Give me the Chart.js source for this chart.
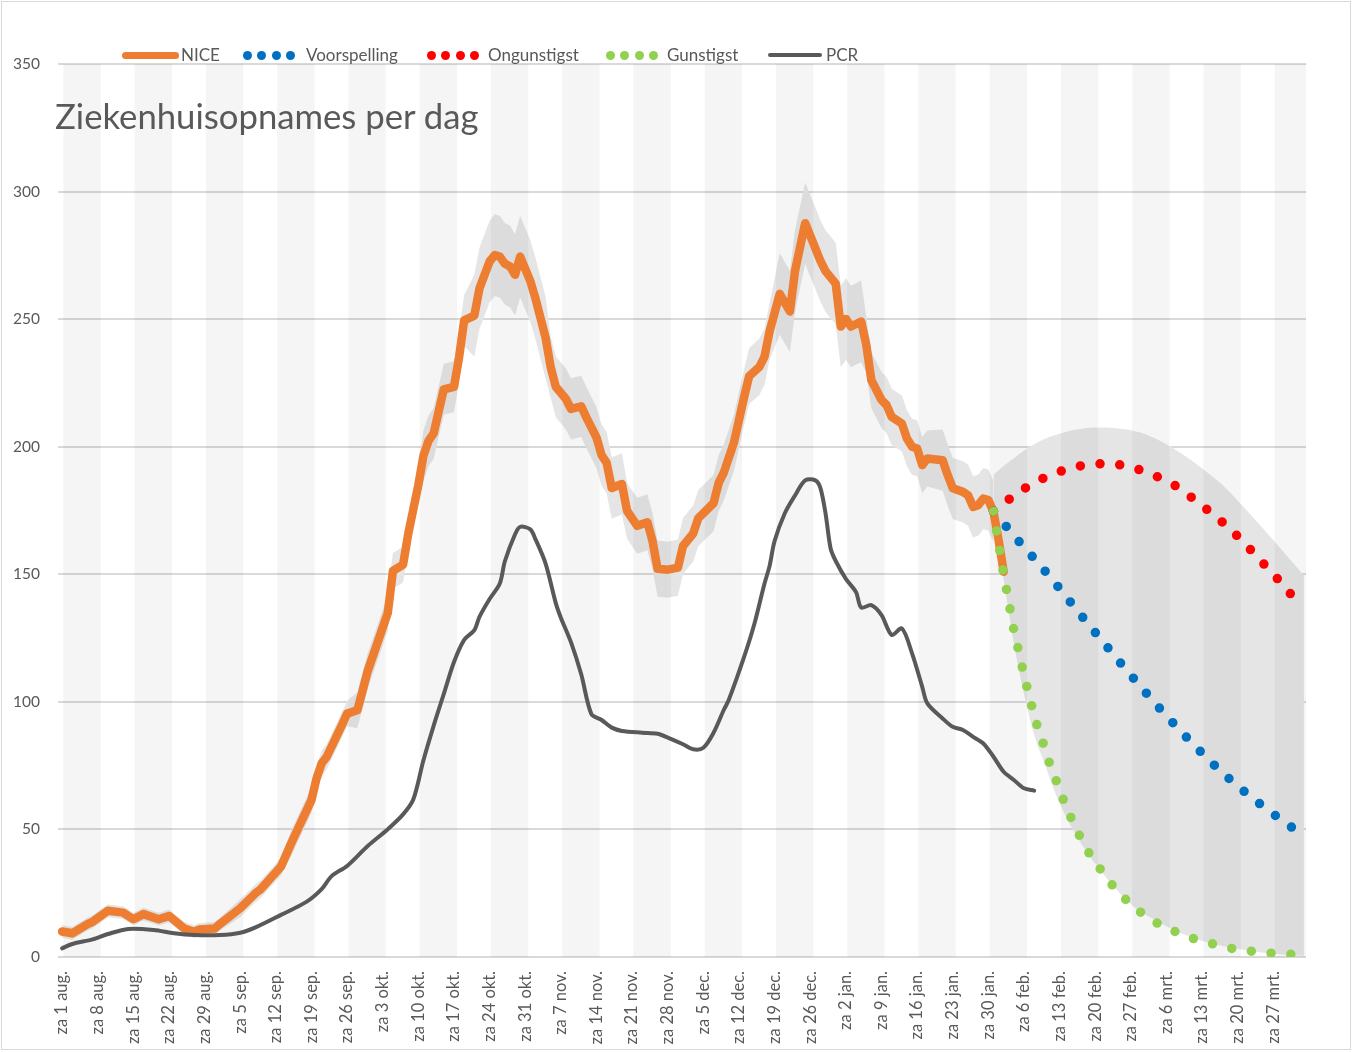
<!DOCTYPE html>
<html>
<head>
<meta charset="utf-8">
<script src="https://cdn.jsdelivr.net/npm/chart.js@4.4.1/dist/chart.umd.min.js"></script>
<style>
html,body{margin:0;padding:0;background:#fff;}
#wrap{position:relative;width:1352px;height:1052px;overflow:hidden;background:#fff;}
#frame{position:absolute;left:1px;top:1px;width:1348px;height:1047px;border:1px solid #d9d9d9;pointer-events:none;}
#c{position:absolute;left:0;top:0;}
#title{position:absolute;left:55px;top:99px;font-family:Lato,sans-serif;font-size:34.7px;line-height:34.7px;color:#595959;white-space:nowrap;}
.lt{position:absolute;top:46px;font-family:Lato,sans-serif;font-size:17px;line-height:17px;color:#595959;white-space:nowrap;}
.lm{position:absolute;}
</style>
</head>
<body>
<div id="wrap">
  <canvas id="c" width="1352" height="1052"></canvas>
  <div id="title">Ziekenhuisopnames per dag</div>
  <div id="legend"></div>
  <div id="frame"></div>
</div>
<script>
// ---------- DATA (day index 0 = za 1 aug.) ----------
const tickLabels = ["za 1 aug.","za 8 aug.","za 15 aug.","za 22 aug.","za 29 aug.","za 5 sep.","za 12 sep.","za 19 sep.","za 26 sep.","za 3 okt.","za 10 okt.","za 17 okt.","za 24 okt.","za 31 okt.","za 7 nov.","za 14 nov.","za 21 nov.","za 28 nov.","za 5 dec.","za 12 dec.","za 19 dec.","za 26 dec.","za 2 jan.","za 9 jan.","za 16 jan.","za 23 jan.","za 30 jan.","za 6 feb.","za 13 feb.","za 20 feb.","za 27 feb.","za 6 mrt.","za 13 mrt.","za 20 mrt.","za 27 mrt."];

const niceDays = [
  0,2,5,6,9,12,14,16,19,21,
  22,24,26,27,30,31,35,38,39,43,
  45,47,49,50,51,52,55,56,58,59,
  60,62,64,65,67,68,70,71,72,73,
  74,75,77,78,79,81,82,84,85,86,
  87,88,89,90,92,93,95,96,97,99,
  100,102,103,105,106,107,108,110,111,113,
  115,116,117,119,121,122,124,125,128,129,
  130,132,134,135,137,138,139,141,143,144,
  146,147,149,150,152,153,154,155,157,158,
  159,161,162,163,165,166,167,168,169,170,
  173,174,175,177,178,179,180,181,182,183,
  184,185];
const niceValues = [
  10,9.3,12.9,13.8,18.1,17.4,14.8,16.8,14.8,16.1,
  14.5,11.2,9.9,10.8,11.2,12.9,19.1,25,26.5,35.4,
  44.5,53,61.5,70,75.9,78.5,91,95.4,96.7,104,
  111.8,123.3,134.9,151.3,153.8,165.7,185,196.5,202.3,205.2,
  213.9,222.5,223.5,235,249.5,251.4,262,272.6,275.1,274.5,
  271.7,270.7,267.4,274.5,264.9,258.2,242.7,231.2,223.5,218.7,
  214.8,215.8,211.5,203.6,196.7,193.7,183.8,185.4,174.9,169,
  170.4,163.1,152.2,151.8,152.6,161.1,166,172,177.9,185.8,
  189.8,201.6,219.4,227.7,231.3,235.2,245.1,259.9,253,268.8,
  287.6,282.7,272.8,268.8,263.9,247.1,250.1,247.1,249.1,240,
  226.1,218.3,216.3,211.7,209.1,203.2,200,199.3,192.8,195.4,
  194.7,188.9,183.7,182.3,181,176.4,177.1,179.7,179.1,174.5,
  163.4,151];
const niceLower = [
  7.5,6.8,10.4,11.3,15.6,14.9,12.3,14.3,12.3,13.6,
  12,8.7,7.4,8.3,8.7,10.4,15.6,21.5,23,31.9,
  39.5,48,56.5,65,70.9,73.5,86,90.4,89.7,97,
  104.8,116.3,127.9,144.3,146.8,158.7,178,186.5,192.3,195.2,
  203.9,212.5,213.5,225,239.5,235.4,246,256.6,259.1,258.5,
  255.7,254.7,251.4,258.5,248.9,242.2,226.7,219.2,211.5,206.7,
  202.8,203.8,199.5,191.6,184.7,181.7,171.8,173.4,163.9,158,
  159.4,152.1,141.2,140.8,141.6,150.1,155,161,166.9,174.8,
  178.8,190.6,208.4,216.7,220.3,224.2,234.1,243.9,237,252.8,
  271.6,266.7,256.8,252.8,247.9,231.1,234.1,231.1,233.1,229,
  215.1,207.3,205.3,200.7,198.1,192.2,189,188.3,181.8,184.4,
  182.7,176.9,171.7,170.3,169,164.4,165.1,167.7,167.1,162.5];
const niceUpper = [
  12.5,11.8,15.4,16.3,20.6,19.9,17.3,19.3,17.3,18.6,
  17,13.7,12.4,13.3,13.7,15.4,22.6,28.5,30,38.9,
  49.5,58,66.5,75,80.9,83.5,96,100.4,103.7,111,
  118.8,130.3,141.9,158.3,160.8,172.7,192,206.5,212.3,215.2,
  223.9,232.5,233.5,245,259.5,267.4,278,288.6,291.1,290.5,
  287.7,286.7,283.4,290.5,280.9,274.2,258.7,243.2,235.5,230.7,
  226.8,227.8,223.5,215.6,208.7,205.7,195.8,197.4,185.9,180,
  181.4,174.1,163.2,162.8,163.6,172.1,177,183,188.9,196.8,
  200.8,212.6,230.4,238.7,242.3,246.2,256.1,275.9,269,284.8,
  303.6,298.7,288.8,284.8,279.9,263.1,266.1,263.1,265.1,251,
  237.1,229.3,227.3,222.7,220.1,214.2,211,210.3,203.8,206.4,
  206.7,200.9,195.7,194.3,193,188.4,189.1,191.7,191.1,186.5];

const pcrDays = [0,2,6,9,13,18,22,26,31,35,38,43,48,51,53,56,60,64,67,69,71,73,75,77,79,81,82,84,86,87,89,90,92,93,95,97,98,100,102,104,106,108,110,114,117,119,122,124,126,128,130,131,134,136,138,139,140,142,144,146,148,149,150,151,152,154,156,157,159,161,163,165,167,169,170,173,175,177,179,181,183,185,187,189,191];
const pcrValues = [3.4,5.1,6.9,9.0,11.0,10.6,9.3,8.6,8.6,9.5,11.6,16.5,21.6,26.6,31.8,35.7,43.4,50.1,55.9,61.7,77.1,90.6,103.1,115.6,124.3,128.1,133.3,140.3,146.4,155.1,165.7,168.6,167.6,163.8,154.2,138.7,133.0,123.3,110.8,95.2,92.9,89.9,88.6,87.9,87.5,86.0,83.4,81.4,82.0,87.9,96.8,100.8,117.6,130.4,146.3,153.2,163.1,173.9,180.9,186.8,186.8,183.8,173.9,160.1,155.2,148.2,143.0,137.0,137.9,134.0,126.2,128.8,119.0,105.9,99.4,93.5,90.2,89.0,86.3,83.7,78.5,72.6,69.4,66.1,65.2];

const voorDays = [183,186,189,192,195,198,201,204,207,210,213,216,219,222,225,228,231,234,237,240,243,244];
const voorValues = [174.7,167.6,160.6,153.9,146.8,139.4,132.0,124.8,117.5,110.4,103.5,96.7,90.2,83.9,77.9,72.2,67.0,62.1,57.5,53.1,48.9,47.5];

const ongDays = [183,186,189,192,195,198,201,204,207,210,213,216,219,222,225,228,231,234,237,240,242];
const ongValues = [174.7,179.3,183.5,186.9,189.5,191.5,192.8,193.3,193.1,192.0,190.0,187.5,184.4,180.0,175.3,170.4,164.8,158.6,152.1,145.6,140.8];

const gunDays = [183,184,185,186,187,188,189,190,191,192,193,194,195,196,197,198,199,200,202,204,206,208,210,212,214,216,218,220,222,224,226,228,230,232,234,236,238,240,242,244];
const gunValues = [174.7,162,150,139.2,128.1,119.4,110.5,102.4,94.8,87.9,82.4,76,70.8,65.6,60.2,55.7,51,47.2,40,34.4,29,24.6,20.6,17.4,14.6,12.4,10.6,8.8,7.4,6.1,5.2,4.1,3.3,2.7,2.2,1.8,1.4,1.1,1.0,0.8];

const fcBandDays = [183,185,187,189,191,193,195,197,199,201,203,205,207,209,211,213,216,220,224,228,232,236,240,244];
const fcUpper = [189,192.5,195.5,198.5,201,203,204.5,205.7,206.6,207.2,207.5,207.5,207.2,206.8,206,204.8,202,197.2,191.5,185,176.7,167.8,158.7,149.5];
const fcLower = [174.5,148,123,103,87,76,65,56,48.5,42,36.5,31.5,26.8,22.5,19,16.5,13,9.2,6.3,4.3,2.8,1.7,1.0,0.5];

// ---------- helpers ----------
const pts = (days, vals) => vals.map((v, i) => ({x: days[i], y: v}));
const TXT = '#595959';
const C_NICE = '#ED7D31', C_BLUE = '#0070C0', C_RED = '#FF0000', C_GREEN = '#92D050', C_PCR = '#595959';
const BAND = '#e5e5e5';

const stripes = {
  id: 'stripes',
  beforeDatasetDraw(chart, args) {
    if (args.index !== 4) return;
    const {ctx, chartArea: a} = chart;
    const x = chart.scales.x;
    ctx.save();
    ctx.beginPath();
    ctx.rect(a.left, a.top, a.right - a.left, a.bottom - a.top);
    ctx.clip();
    ctx.fillStyle = 'rgba(0,0,0,0.04)';
    for (let k = 0; k * 14 < 246; k++) {
      const x0 = x.getPixelForValue(k * 14 + 0.25);
      const x1 = x.getPixelForValue(k * 14 + 7.6);
      ctx.fillRect(x0, a.top, x1 - x0, a.bottom - a.top);
    }
    ctx.restore();
  }
};

const bandDays = niceDays.slice(0, niceLower.length);

const dotLine = (label, color, days, vals, order) => ({
  label, data: pts(days, vals), borderColor: color, borderWidth: 9.5,
  borderDash: [0, 19.8], borderCapStyle: 'round', borderJoinStyle: 'round',
  pointRadius: 0, fill: false, cubicInterpolationMode: 'monotone', order
});

const chart = new Chart(document.getElementById('c'), {
  type: 'line',
  data: {
    datasets: [
      {label: 'bandLow', data: pts(bandDays, niceLower), borderColor: 'rgba(0,0,0,0)', borderWidth: 0, pointRadius: 0, fill: false, order: 20},
      {label: 'bandHigh', data: pts(bandDays, niceUpper), borderColor: 'rgba(0,0,0,0)', borderWidth: 0, pointRadius: 0, fill: 0, backgroundColor: BAND, order: 19},
      {label: 'fcLow', data: pts(fcBandDays, fcLower), borderColor: 'rgba(0,0,0,0)', borderWidth: 0, pointRadius: 0, fill: false, cubicInterpolationMode: 'monotone', order: 18},
      {label: 'fcHigh', data: pts(fcBandDays, fcUpper), borderColor: 'rgba(0,0,0,0)', borderWidth: 0, pointRadius: 0, fill: 2, backgroundColor: BAND, cubicInterpolationMode: 'monotone', order: 17},
      {label: 'NICE', data: pts(niceDays, niceValues), borderColor: C_NICE, borderWidth: 8.5, borderJoinStyle: 'round', borderCapStyle: 'round', pointRadius: 0, fill: false, tension: 0, order: 5},
      dotLine('Voorspelling', C_BLUE, voorDays, voorValues, 4),
      dotLine('Ongunstigst', C_RED, ongDays, ongValues, 3),
      dotLine('Gunstigst', C_GREEN, gunDays, gunValues, 2),
      {label: 'PCR', data: pts(pcrDays, pcrValues), borderColor: C_PCR, borderWidth: 4, borderJoinStyle: 'round', borderCapStyle: 'round', pointRadius: 0, fill: false, tension: 0.3, order: 1}
    ]
  },
  options: {
    responsive: false,
    animation: false,
    events: [],
    layout: {padding: {left: 0, right: 46, top: 64, bottom: 0}},
    plugins: {legend: {display: false}, tooltip: {enabled: false}, title: {display: false}},
    scales: {
      x: {
        type: 'linear', min: -0.8, max: 244.4,
        grid: {display: false, drawTicks: false},
        border: {display: false},
        afterBuildTicks: s => { s.ticks = tickLabels.map((_, i) => ({value: i * 7})); },
        afterFit: s => { s.height = 95; },
        ticks: {
          autoSkip: false, minRotation: 90, maxRotation: 90, padding: 14,
          color: TXT, font: {family: 'Lato', size: 16.5},
          callback: (v, i) => tickLabels[i]
        }
      },
      y: {
        min: 0, max: 350,
        afterFit: s => { s.width = 58; },
        grid: {color: '#d9d9d9', lineWidth: 2, drawTicks: false},
        border: {display: false},
        ticks: {stepSize: 50, padding: 18, color: TXT, font: {family: 'Lato', size: 15.5}}
      }
    }
  },
  plugins: [stripes]
});

// ---------- legend (HTML) ----------
const legend = document.getElementById('legend');
function addText(txt, left) {
  const d = document.createElement('div'); d.className = 'lt'; d.style.left = left + 'px'; d.textContent = txt; legend.appendChild(d);
}
function addBar(left, width, height, color) {
  const d = document.createElement('div'); d.className = 'lm';
  d.style.cssText = `left:${left}px;top:${55 - height / 2}px;width:${width}px;height:${height}px;background:${color};border-radius:${height / 2}px;`;
  legend.appendChild(d);
}
function addDots(firstCenter, color) {
  for (let i = 0; i < 4; i++) {
    const d = document.createElement('div'); d.className = 'lm';
    const cx = firstCenter + i * 14.5;
    d.style.cssText = `left:${cx - 4.5}px;top:${55 - 4.5}px;width:9px;height:9px;background:${color};border-radius:50%;`;
    legend.appendChild(d);
  }
}
const ds = chart.data.datasets;
addBar(122, 57, 7, ds[4].borderColor); addText(ds[4].label, 181);
addDots(247, ds[5].borderColor); addText(ds[5].label, 306);
addDots(431, ds[6].borderColor); addText(ds[6].label, 488);
addDots(610, ds[7].borderColor); addText(ds[7].label, 667);
addBar(768, 54, 4, ds[8].borderColor); addText(ds[8].label, 826);
</script>
</body>
</html>
